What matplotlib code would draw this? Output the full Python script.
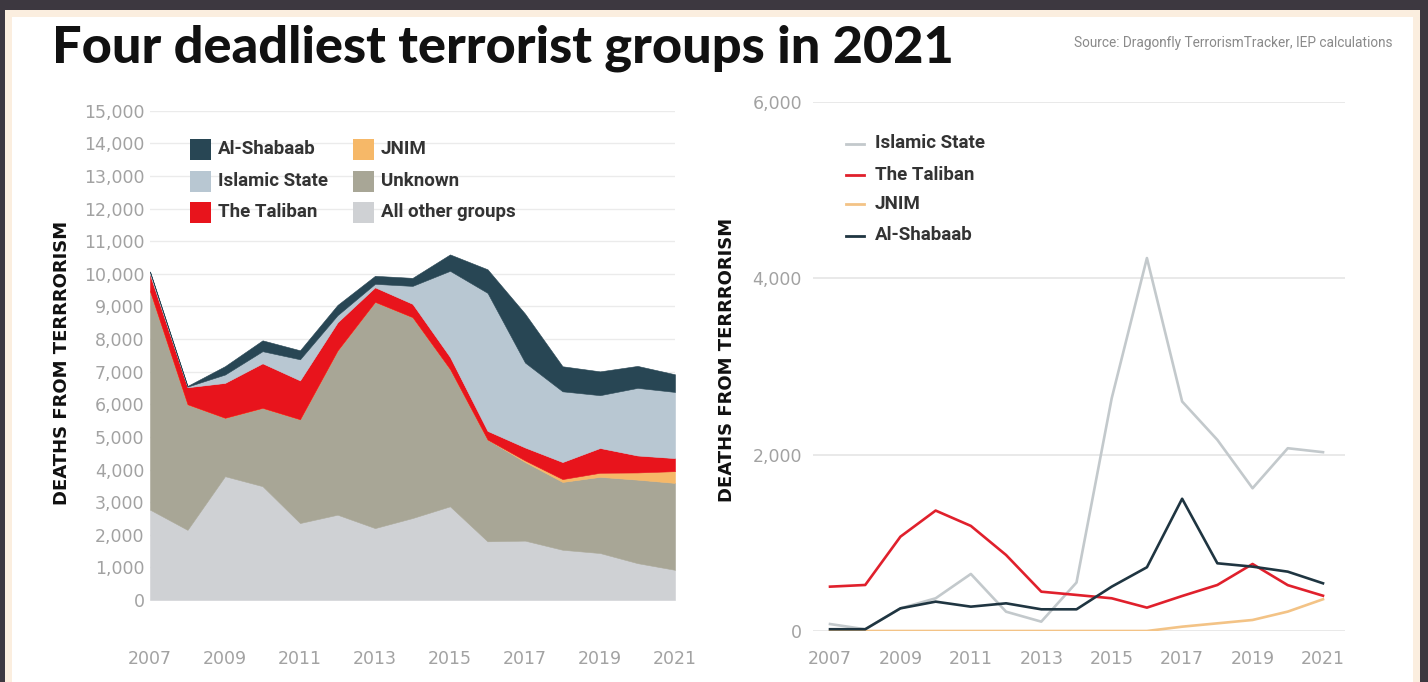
import matplotlib
matplotlib.use("Agg")
import matplotlib.pyplot as plt
from matplotlib.patches import Rectangle
from matplotlib.lines import Line2D
from matplotlib.ticker import FuncFormatter

# ---- data -------------------------------------------------------------
years = list(range(2007, 2022))

al_shabaab = [20, 20, 257, 333, 276, 314, 246, 246, 503, 723, 1500, 768, 730, 673, 541]
islamic_state = [79, 20, 257, 371, 647, 219, 106, 550, 2640, 4230, 2603, 2168, 1619, 2073, 2028]
taliban = [503, 522, 1070, 1366, 1192, 862, 446, 409, 371, 265, 397, 522, 760, 520, 400]
jnim = [0, 0, 0, 0, 0, 0, 0, 0, 0, 0, 49, 87, 125, 220, 360]
unknown = [6700, 3850, 1790, 2400, 3180, 5035, 6935, 6157, 4208, 3120, 2410, 2080, 2335, 2560, 2665]
all_other = [2770, 2150, 3795, 3490, 2360, 2615, 2205, 2513, 2872, 1800, 1820, 1540, 1440, 1130, 925]

year_ticks = [2007, 2009, 2011, 2013, 2015, 2017, 2019, 2021]
left_yticks = list(range(0, 15001, 1000))
right_yticks = [0, 2000, 4000, 6000]

title = "Four deadliest terrorist groups in 2021"
source = "Source: Dragonfly TerrorismTracker, IEP calculations"
ylabel = "DEATHS FROM TERRRORISM"

# ---- styling ----------------------------------------------------------
C_SHABAAB = "#284654"
C_IS = "#b8c7d2"
C_TALIBAN = "#e8141c"
C_JNIM = "#f6b868"
C_UNKNOWN = "#a8a696"
C_OTHER = "#cfd1d4"

C_IS_LINE = "#c3c9cc"
C_TAL_LINE = "#e0202c"
C_JNIM_LINE = "#f3c386"
C_SHAB_LINE = "#1f3541"

TICK_C = "#a2a2a2"
LEG_C = "#333333"
LEG_FONT = ["Roboto", "DejaVu Sans"]
TICK_FONT = ["DejaVu Sans"]

W, H = 1428, 682


def fx(x):
    return x / W


def fy(y):
    return 1 - y / H


fig = plt.figure(figsize=(W / 100, H / 100), dpi=100, facecolor="#3d3840")

# page frame: dark surround, thin cream border, white card
fig.add_artist(Rectangle((fx(5), 0), fx(1420) - fx(5), fy(10), transform=fig.transFigure,
                         facecolor="#fbeedf", edgecolor="none", zorder=0))
fig.add_artist(Rectangle((fx(12), 0), fx(1413) - fx(12), fy(17), transform=fig.transFigure,
                         facecolor="white", edgecolor="none", zorder=0))

thousands = FuncFormatter(lambda v, p: f"{int(v):,}")

# ---- left: stacked areas ---------------------------------------------
axl = fig.add_axes([fx(150), fy(600), fx(675) - fx(150), fy(110.7) - fy(600)])
axl.set_facecolor("none")
axl.stackplot(years, all_other, unknown, jnim, taliban, islamic_state, al_shabaab,
              colors=[C_OTHER, C_UNKNOWN, C_JNIM, C_TALIBAN, C_IS, C_SHABAAB],
              linewidth=0.4, edgecolor="face", zorder=2)
axl.set_xlim(2007, 2021)
axl.set_ylim(0, 15000)
axl.set_yticks(left_yticks)
axl.yaxis.set_major_formatter(thousands)
axl.set_xticks(year_ticks)
axl.grid(axis="y", color="#ebebeb", linewidth=1.0, zorder=0)
axl.set_axisbelow(True)
for s in axl.spines.values():
    s.set_visible(False)
axl.tick_params(axis="y", length=0, pad=4, labelsize=12.5, labelcolor=TICK_C)
axl.tick_params(axis="x", length=0, pad=36, labelsize=12.5, labelcolor=TICK_C)
for lab in axl.get_xticklabels() + axl.get_yticklabels():
    lab.set_family(TICK_FONT)

# ---- right: lines -----------------------------------------------------
axr = fig.add_axes([fx(813), fy(631), fx(1345) - fx(813), fy(102) - fy(631)])
axr.set_facecolor("none")
axr.plot(years, islamic_state, color=C_IS_LINE, lw=1.9, zorder=3)
axr.plot(years, taliban, color=C_TAL_LINE, lw=1.9, zorder=4)
axr.plot(years, jnim, color=C_JNIM_LINE, lw=1.9, zorder=3)
axr.plot(years, al_shabaab, color=C_SHAB_LINE, lw=1.9, zorder=4)
axr.set_xlim(2007 - 17 / 35.2, 2021 + 22 / 35.2)
axr.set_ylim(0, 6000)
axr.set_yticks(right_yticks)
axr.yaxis.set_major_formatter(thousands)
axr.set_xticks(year_ticks)
axr.grid(axis="y", color="#e9e9e9", linewidth=1.4, zorder=0)
axr.set_axisbelow(True)
for s in axr.spines.values():
    s.set_visible(False)
axr.tick_params(axis="y", length=0, pad=8, labelsize=12.5, labelcolor=TICK_C)
axr.tick_params(axis="x", length=0, pad=14, labelsize=12.5, labelcolor=TICK_C)
for lab in axr.get_xticklabels() + axr.get_yticklabels():
    lab.set_family(TICK_FONT)

# ---- axis titles ------------------------------------------------------
for xc, yc in [(62, 363), (727, 360)]:
    fig.text(fx(xc), fy(yc), ylabel, rotation=90, ha="center", va="center",
             fontsize=13, fontweight="bold", color="#111111")

# ---- left legend (two columns of swatches) ----------------------------
left_items = [
    (190, 149.5, C_SHABAAB, "Al-Shabaab"),
    (190, 181, C_IS, "Islamic State"),
    (190, 212.5, C_TALIBAN, "The Taliban"),
    (353, 149.5, C_JNIM, "JNIM"),
    (353, 181, C_UNKNOWN, "Unknown"),
    (353, 212.5, C_OTHER, "All other groups"),
]
for x0, yc, col, lab in left_items:
    fig.add_artist(Rectangle((fx(x0), fy(yc + 10.5)), fx(21), 21 / H,
                             transform=fig.transFigure, facecolor=col, edgecolor="none"))
    fig.text(fx(x0 + 28), fy(yc), lab, ha="left", va="center", fontsize=13.5,
             fontweight="bold", color=LEG_C, family=LEG_FONT)

# ---- right legend (line keys) -----------------------------------------
right_items = [
    (143.5, C_IS_LINE, "Islamic State"),
    (174.5, C_TAL_LINE, "The Taliban"),
    (204.5, C_JNIM_LINE, "JNIM"),
    (235.5, C_SHAB_LINE, "Al-Shabaab"),
]
for yc, col, lab in right_items:
    fig.add_artist(Line2D([fx(846), fx(864)], [fy(yc), fy(yc)], transform=fig.transFigure,
                          color=col, lw=2.0))
    fig.text(fx(875), fy(yc), lab, ha="left", va="center", fontsize=13.5,
             fontweight="bold", color=LEG_C, family=LEG_FONT)

# ---- title & source ---------------------------------------------------
t = fig.text(fx(52), fy(62), title, ha="left", va="baseline", fontsize=34,
             fontweight="black", color="#111111", family=["Lato", "DejaVu Sans"])
fig.canvas.draw()
w = t.get_window_extent().width
t.set_fontsize(34 * 903 / w)

fig.text(fx(1393), fy(43), source, ha="right", va="center", fontsize=9.8,
         color="#8a8a8a", family=["Roboto", "DejaVu Sans"])

fig.savefig("out.png", dpi=100, facecolor=fig.get_facecolor())
